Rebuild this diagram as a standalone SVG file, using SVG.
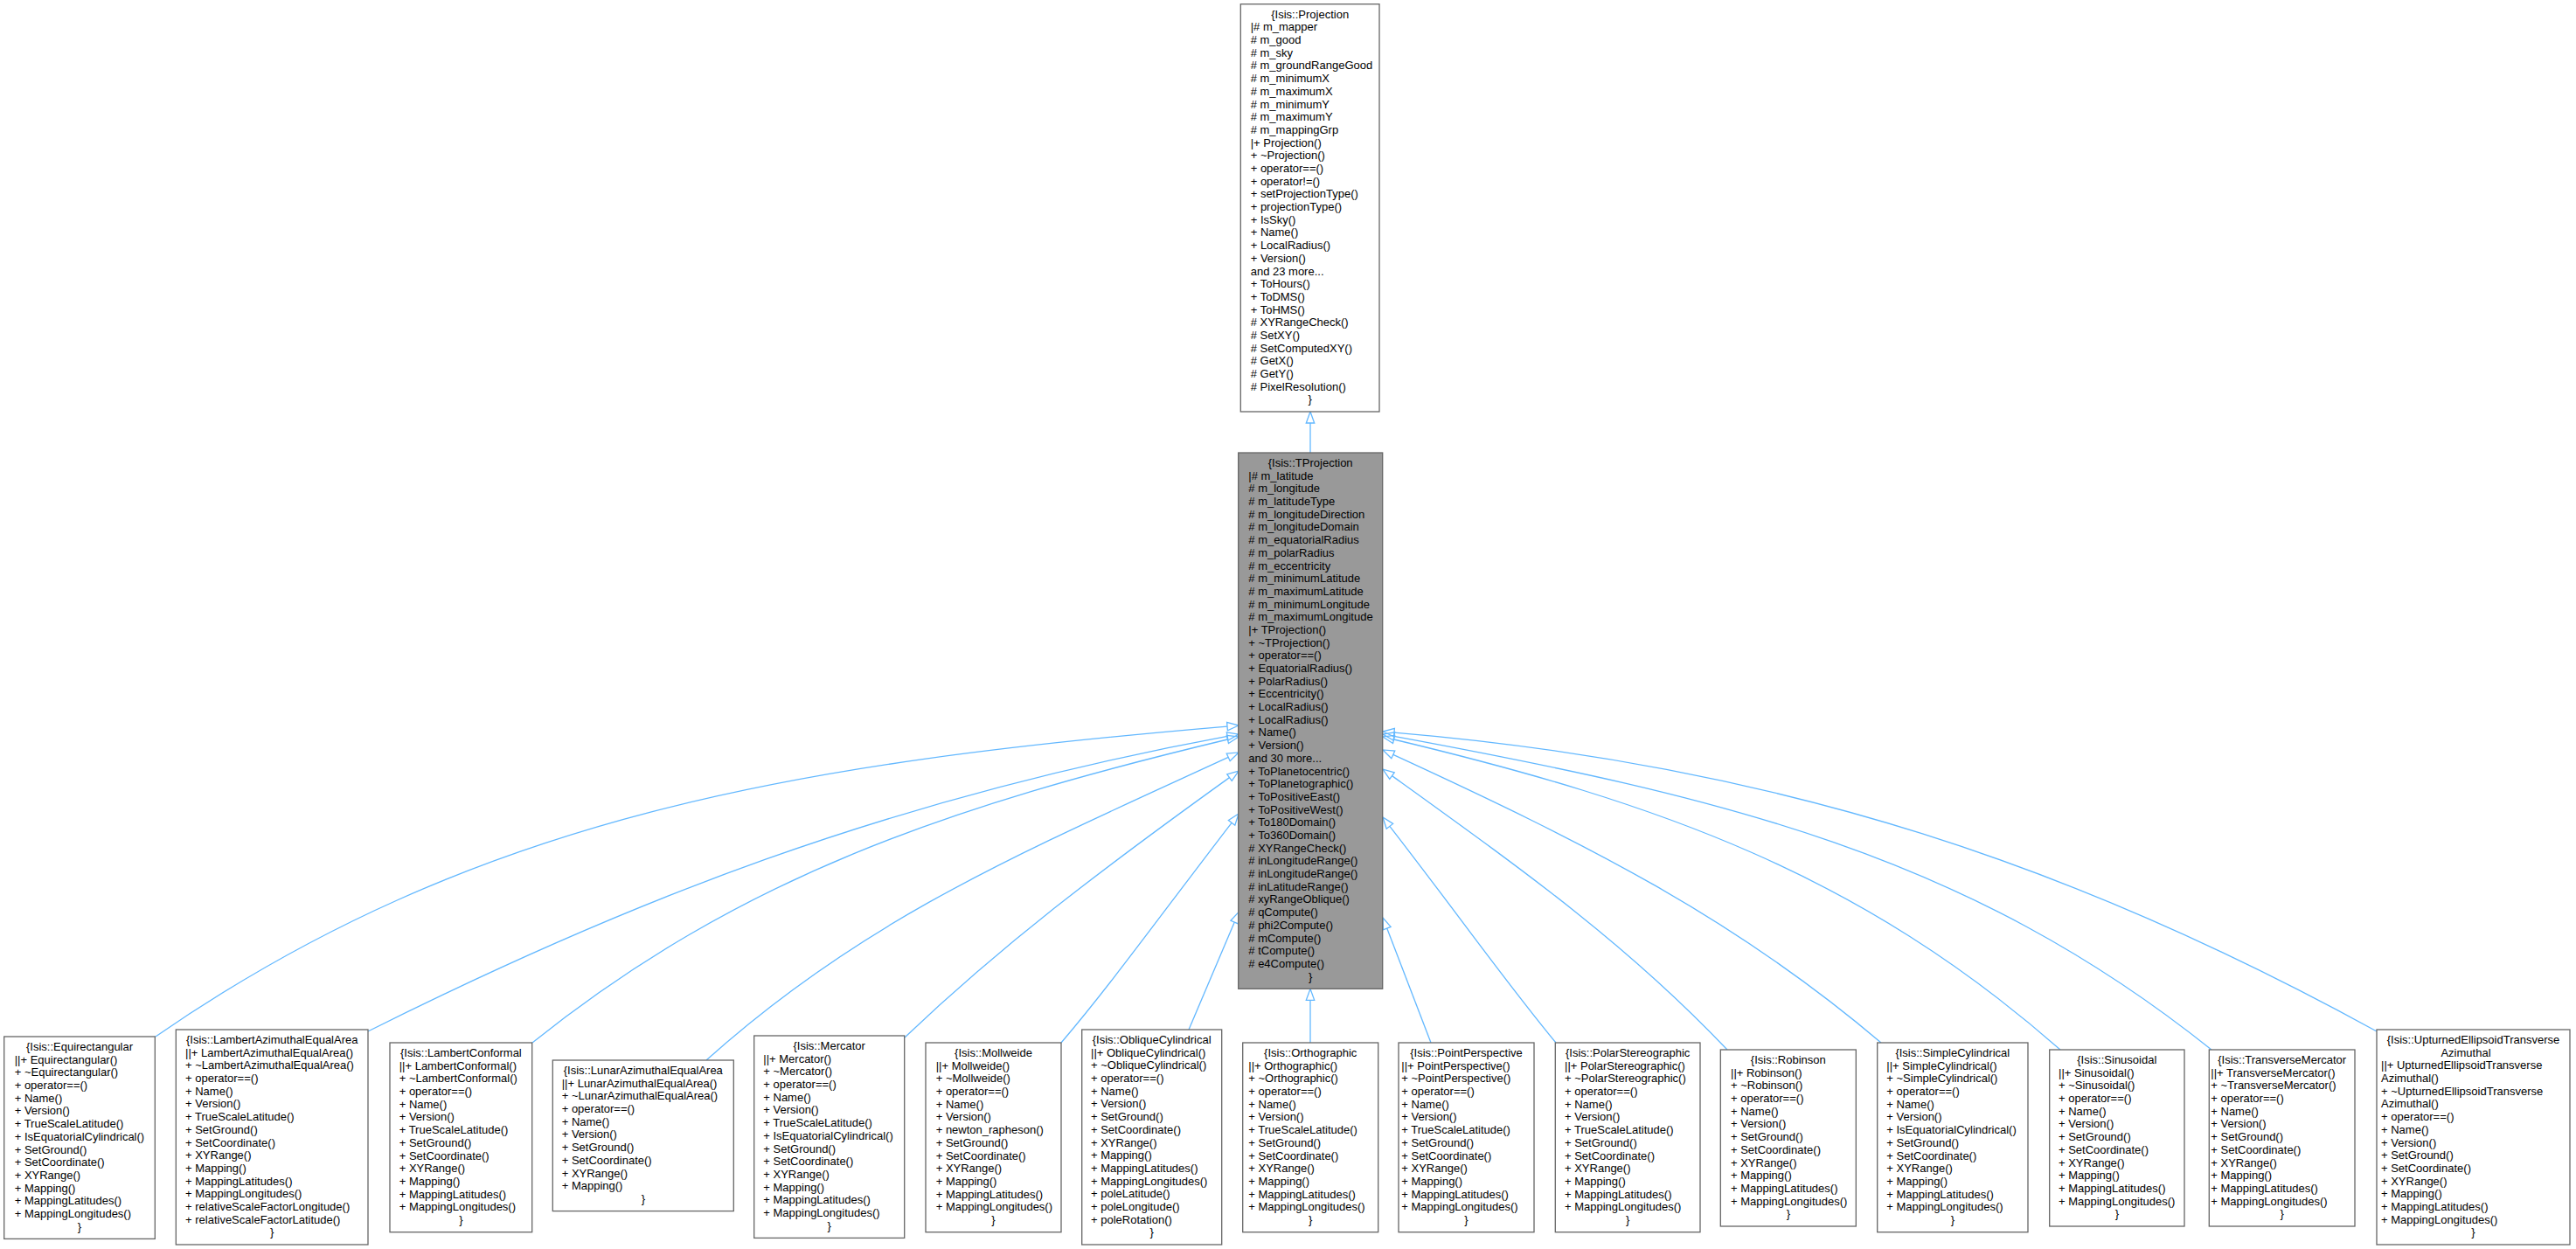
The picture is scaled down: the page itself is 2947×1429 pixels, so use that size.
<svg xmlns="http://www.w3.org/2000/svg" width="2947" height="1429" viewBox="0 0 2947 1429">
<defs>
<style>
.box{fill:#fff;stroke:#666;stroke-width:1.3}
.dark{fill:#999}
text{font-family:"Liberation Sans",Arial,Helvetica,sans-serif;font-size:13px;fill:#000}
.c{text-anchor:middle}
.edge{fill:none;stroke:#63B8FF;stroke-width:1.3;marker-end:url(#tri)}
</style>
<marker id="tri" viewBox="0 0 13 10" refX="0" refY="5" markerWidth="13" markerHeight="10" markerUnits="userSpaceOnUse" orient="auto" overflow="visible">
<path d="M0,0.3 L13,5 L0,9.7 Z" fill="none" stroke="#63B8FF" stroke-width="1.3"/>
</marker>
</defs>
<rect width="2947" height="1429" fill="#fff"/>

<g id="connectors">
<path class="edge" d="M1499,518 L1499,484"/>
<path class="edge" d="M178,1186 C546,932 914,872.7 1404,831.1"/>
<path class="edge" d="M421,1180 C716,1032.5 1011,915.1 1404.2,842.4"/>
<path class="edge" d="M609,1193 C847.5,1002.2 1086.4,922.3 1404.4,846"/>
<path class="edge" d="M808,1213 C987,1052 1166.2,976.4 1405.2,866.4"/>
<path class="edge" d="M1035,1187 C1146,1081.5 1257.5,996.6 1406.5,889.6"/>
<path class="edge" d="M1214,1193 C1272,1125 1331,1042.7 1409.1,941.3"/>
<path class="edge" d="M1360,1178 L1412.3,1055.1"/>
<path class="edge" d="M1499,1193 L1499,1144.3"/>
<path class="edge" d="M1637,1193 L1586.7,1062.1"/>
<path class="edge" d="M1780,1193 C1722,1123 1668,1046 1589.9,945.3"/>
<path class="edge" d="M1976,1201 C1861,1080 1745.5,997.8 1592.5,887.6"/>
<path class="edge" d="M2152,1193 C1985,1051 1816.8,966 1593.8,863.4"/>
<path class="edge" d="M2357,1201 C2128,1000 1899.6,919 1594.6,846"/>
<path class="edge" d="M2530,1201 C2250,977 1968.8,911.6 1594.8,842.4"/>
<path class="edge" d="M2719,1180 C2382,995 2045,876 1595,838.1"/>
</g>

<g id="projection">
<rect class="box" x="1419.3" y="4.7" width="158.7" height="466.3"/>
<text class="c" x="1498.7" y="20.7">{Isis::Projection</text>
<text y="20.7"><tspan x="1430.7" dy="14.69">|# m_mapper</tspan><tspan x="1430.7" dy="14.69"># m_good</tspan><tspan x="1430.7" dy="14.69"># m_sky</tspan><tspan x="1430.7" dy="14.69"># m_groundRangeGood</tspan><tspan x="1430.7" dy="14.69"># m_minimumX</tspan><tspan x="1430.7" dy="14.69"># m_maximumX</tspan><tspan x="1430.7" dy="14.69"># m_minimumY</tspan><tspan x="1430.7" dy="14.69"># m_maximumY</tspan><tspan x="1430.7" dy="14.69"># m_mappingGrp</tspan><tspan x="1430.7" dy="14.69">|+ Projection()</tspan><tspan x="1430.7" dy="14.69">+ ~Projection()</tspan><tspan x="1430.7" dy="14.69">+ operator==()</tspan><tspan x="1430.7" dy="14.69">+ operator!=()</tspan><tspan x="1430.7" dy="14.69">+ setProjectionType()</tspan><tspan x="1430.7" dy="14.69">+ projectionType()</tspan><tspan x="1430.7" dy="14.69">+ IsSky()</tspan><tspan x="1430.7" dy="14.69">+ Name()</tspan><tspan x="1430.7" dy="14.69">+ LocalRadius()</tspan><tspan x="1430.7" dy="14.69">+ Version()</tspan><tspan x="1430.7" dy="14.69">and 23 more...</tspan><tspan x="1430.7" dy="14.69">+ ToHours()</tspan><tspan x="1430.7" dy="14.69">+ ToDMS()</tspan><tspan x="1430.7" dy="14.69">+ ToHMS()</tspan><tspan x="1430.7" dy="14.69"># XYRangeCheck()</tspan><tspan x="1430.7" dy="14.69"># SetXY()</tspan><tspan x="1430.7" dy="14.69"># SetComputedXY()</tspan><tspan x="1430.7" dy="14.69"># GetX()</tspan><tspan x="1430.7" dy="14.69"># GetY()</tspan><tspan x="1430.7" dy="14.69"># PixelResolution()</tspan></text>
<text class="c" x="1498.7" y="461.4">}</text>
</g>

<g id="tprojection">
<rect class="box dark" x="1416.7" y="518" width="165" height="613.3"/>
<text class="c" x="1499.2" y="534">{Isis::TProjection</text>
<text y="534"><tspan x="1428.3" dy="14.69">|# m_latitude</tspan><tspan x="1428.3" dy="14.69"># m_longitude</tspan><tspan x="1428.3" dy="14.69"># m_latitudeType</tspan><tspan x="1428.3" dy="14.69"># m_longitudeDirection</tspan><tspan x="1428.3" dy="14.69"># m_longitudeDomain</tspan><tspan x="1428.3" dy="14.69"># m_equatorialRadius</tspan><tspan x="1428.3" dy="14.69"># m_polarRadius</tspan><tspan x="1428.3" dy="14.69"># m_eccentricity</tspan><tspan x="1428.3" dy="14.69"># m_minimumLatitude</tspan><tspan x="1428.3" dy="14.69"># m_maximumLatitude</tspan><tspan x="1428.3" dy="14.69"># m_minimumLongitude</tspan><tspan x="1428.3" dy="14.69"># m_maximumLongitude</tspan><tspan x="1428.3" dy="14.69">|+ TProjection()</tspan><tspan x="1428.3" dy="14.69">+ ~TProjection()</tspan><tspan x="1428.3" dy="14.69">+ operator==()</tspan><tspan x="1428.3" dy="14.69">+ EquatorialRadius()</tspan><tspan x="1428.3" dy="14.69">+ PolarRadius()</tspan><tspan x="1428.3" dy="14.69">+ Eccentricity()</tspan><tspan x="1428.3" dy="14.69">+ LocalRadius()</tspan><tspan x="1428.3" dy="14.69">+ LocalRadius()</tspan><tspan x="1428.3" dy="14.69">+ Name()</tspan><tspan x="1428.3" dy="14.69">+ Version()</tspan><tspan x="1428.3" dy="14.69">and 30 more...</tspan><tspan x="1428.3" dy="14.69">+ ToPlanetocentric()</tspan><tspan x="1428.3" dy="14.69">+ ToPlanetographic()</tspan><tspan x="1428.3" dy="14.69">+ ToPositiveEast()</tspan><tspan x="1428.3" dy="14.69">+ ToPositiveWest()</tspan><tspan x="1428.3" dy="14.69">+ To180Domain()</tspan><tspan x="1428.3" dy="14.69">+ To360Domain()</tspan><tspan x="1428.3" dy="14.69"># XYRangeCheck()</tspan><tspan x="1428.3" dy="14.69"># inLongitudeRange()</tspan><tspan x="1428.3" dy="14.69"># inLongitudeRange()</tspan><tspan x="1428.3" dy="14.69"># inLatitudeRange()</tspan><tspan x="1428.3" dy="14.69"># xyRangeOblique()</tspan><tspan x="1428.3" dy="14.69"># qCompute()</tspan><tspan x="1428.3" dy="14.69"># phi2Compute()</tspan><tspan x="1428.3" dy="14.69"># mCompute()</tspan><tspan x="1428.3" dy="14.69"># tCompute()</tspan><tspan x="1428.3" dy="14.69"># e4Compute()</tspan></text>
<text class="c" x="1499.2" y="1121.6">}</text>
</g>

<g id="equirectangular">
<rect class="box" x="4.7" y="1186" width="172.6" height="231.4"/>
<text class="c" x="91" y="1202">{Isis::Equirectangular</text>
<text y="1202"><tspan x="16.7" dy="14.69">||+ Equirectangular()</tspan><tspan x="16.7" dy="14.69">+ ~Equirectangular()</tspan><tspan x="16.7" dy="14.69">+ operator==()</tspan><tspan x="16.7" dy="14.69">+ Name()</tspan><tspan x="16.7" dy="14.69">+ Version()</tspan><tspan x="16.7" dy="14.69">+ TrueScaleLatitude()</tspan><tspan x="16.7" dy="14.69">+ IsEquatorialCylindrical()</tspan><tspan x="16.7" dy="14.69">+ SetGround()</tspan><tspan x="16.7" dy="14.69">+ SetCoordinate()</tspan><tspan x="16.7" dy="14.69">+ XYRange()</tspan><tspan x="16.7" dy="14.69">+ Mapping()</tspan><tspan x="16.7" dy="14.69">+ MappingLatitudes()</tspan><tspan x="16.7" dy="14.69">+ MappingLongitudes()</tspan></text>
<text class="c" x="91" y="1407.7">}</text>
</g>

<g id="lambertazimuthalequalarea">
<rect class="box" x="201.3" y="1178" width="219.7" height="246"/>
<text class="c" x="311.2" y="1194">{Isis::LambertAzimuthalEqualArea</text>
<text y="1194"><tspan x="212" dy="14.69">||+ LambertAzimuthalEqualArea()</tspan><tspan x="212" dy="14.69">+ ~LambertAzimuthalEqualArea()</tspan><tspan x="212" dy="14.69">+ operator==()</tspan><tspan x="212" dy="14.69">+ Name()</tspan><tspan x="212" dy="14.69">+ Version()</tspan><tspan x="212" dy="14.69">+ TrueScaleLatitude()</tspan><tspan x="212" dy="14.69">+ SetGround()</tspan><tspan x="212" dy="14.69">+ SetCoordinate()</tspan><tspan x="212" dy="14.69">+ XYRange()</tspan><tspan x="212" dy="14.69">+ Mapping()</tspan><tspan x="212" dy="14.69">+ MappingLatitudes()</tspan><tspan x="212" dy="14.69">+ MappingLongitudes()</tspan><tspan x="212" dy="14.69">+ relativeScaleFactorLongitude()</tspan><tspan x="212" dy="14.69">+ relativeScaleFactorLatitude()</tspan></text>
<text class="c" x="311.2" y="1414.4">}</text>
</g>

<g id="lambertconformal">
<rect class="box" x="446" y="1193" width="162.7" height="216.7"/>
<text class="c" x="527.4" y="1209">{Isis::LambertConformal</text>
<text y="1209"><tspan x="456.7" dy="14.69">||+ LambertConformal()</tspan><tspan x="456.7" dy="14.69">+ ~LambertConformal()</tspan><tspan x="456.7" dy="14.69">+ operator==()</tspan><tspan x="456.7" dy="14.69">+ Name()</tspan><tspan x="456.7" dy="14.69">+ Version()</tspan><tspan x="456.7" dy="14.69">+ TrueScaleLatitude()</tspan><tspan x="456.7" dy="14.69">+ SetGround()</tspan><tspan x="456.7" dy="14.69">+ SetCoordinate()</tspan><tspan x="456.7" dy="14.69">+ XYRange()</tspan><tspan x="456.7" dy="14.69">+ Mapping()</tspan><tspan x="456.7" dy="14.69">+ MappingLatitudes()</tspan><tspan x="456.7" dy="14.69">+ MappingLongitudes()</tspan></text>
<text class="c" x="527.4" y="1400">}</text>
</g>

<g id="lunarazimuthalequalarea">
<rect class="box" x="632.3" y="1213" width="207" height="172.6"/>
<text class="c" x="735.8" y="1229">{Isis::LunarAzimuthalEqualArea</text>
<text y="1229"><tspan x="642.7" dy="14.69">||+ LunarAzimuthalEqualArea()</tspan><tspan x="642.7" dy="14.69">+ ~LunarAzimuthalEqualArea()</tspan><tspan x="642.7" dy="14.69">+ operator==()</tspan><tspan x="642.7" dy="14.69">+ Name()</tspan><tspan x="642.7" dy="14.69">+ Version()</tspan><tspan x="642.7" dy="14.69">+ SetGround()</tspan><tspan x="642.7" dy="14.69">+ SetCoordinate()</tspan><tspan x="642.7" dy="14.69">+ XYRange()</tspan><tspan x="642.7" dy="14.69">+ Mapping()</tspan></text>
<text class="c" x="735.8" y="1375.9">}</text>
</g>

<g id="mercator">
<rect class="box" x="862.7" y="1185" width="172" height="231.4"/>
<text class="c" x="948.7" y="1201">{Isis::Mercator</text>
<text y="1201"><tspan x="873.3" dy="14.69">||+ Mercator()</tspan><tspan x="873.3" dy="14.69">+ ~Mercator()</tspan><tspan x="873.3" dy="14.69">+ operator==()</tspan><tspan x="873.3" dy="14.69">+ Name()</tspan><tspan x="873.3" dy="14.69">+ Version()</tspan><tspan x="873.3" dy="14.69">+ TrueScaleLatitude()</tspan><tspan x="873.3" dy="14.69">+ IsEquatorialCylindrical()</tspan><tspan x="873.3" dy="14.69">+ SetGround()</tspan><tspan x="873.3" dy="14.69">+ SetCoordinate()</tspan><tspan x="873.3" dy="14.69">+ XYRange()</tspan><tspan x="873.3" dy="14.69">+ Mapping()</tspan><tspan x="873.3" dy="14.69">+ MappingLatitudes()</tspan><tspan x="873.3" dy="14.69">+ MappingLongitudes()</tspan></text>
<text class="c" x="948.7" y="1406.7">}</text>
</g>

<g id="mollweide">
<rect class="box" x="1059" y="1193" width="155" height="216.7"/>
<text class="c" x="1136.5" y="1209">{Isis::Mollweide</text>
<text y="1209"><tspan x="1070.7" dy="14.69">||+ Mollweide()</tspan><tspan x="1070.7" dy="14.69">+ ~Mollweide()</tspan><tspan x="1070.7" dy="14.69">+ operator==()</tspan><tspan x="1070.7" dy="14.69">+ Name()</tspan><tspan x="1070.7" dy="14.69">+ Version()</tspan><tspan x="1070.7" dy="14.69">+ newton_rapheson()</tspan><tspan x="1070.7" dy="14.69">+ SetGround()</tspan><tspan x="1070.7" dy="14.69">+ SetCoordinate()</tspan><tspan x="1070.7" dy="14.69">+ XYRange()</tspan><tspan x="1070.7" dy="14.69">+ Mapping()</tspan><tspan x="1070.7" dy="14.69">+ MappingLatitudes()</tspan><tspan x="1070.7" dy="14.69">+ MappingLongitudes()</tspan></text>
<text class="c" x="1136.5" y="1400">}</text>
</g>

<g id="obliquecylindrical">
<rect class="box" x="1237.7" y="1178" width="160" height="246"/>
<text class="c" x="1317.7" y="1194">{Isis::ObliqueCylindrical</text>
<text y="1194"><tspan x="1248" dy="14.69">||+ ObliqueCylindrical()</tspan><tspan x="1248" dy="14.69">+ ~ObliqueCylindrical()</tspan><tspan x="1248" dy="14.69">+ operator==()</tspan><tspan x="1248" dy="14.69">+ Name()</tspan><tspan x="1248" dy="14.69">+ Version()</tspan><tspan x="1248" dy="14.69">+ SetGround()</tspan><tspan x="1248" dy="14.69">+ SetCoordinate()</tspan><tspan x="1248" dy="14.69">+ XYRange()</tspan><tspan x="1248" dy="14.69">+ Mapping()</tspan><tspan x="1248" dy="14.69">+ MappingLatitudes()</tspan><tspan x="1248" dy="14.69">+ MappingLongitudes()</tspan><tspan x="1248" dy="14.69">+ poleLatitude()</tspan><tspan x="1248" dy="14.69">+ poleLongitude()</tspan><tspan x="1248" dy="14.69">+ poleRotation()</tspan></text>
<text class="c" x="1317.7" y="1414.4">}</text>
</g>

<g id="orthographic">
<rect class="box" x="1421.7" y="1193" width="155" height="216.7"/>
<text class="c" x="1499.2" y="1209">{Isis::Orthographic</text>
<text y="1209"><tspan x="1428.3" dy="14.69">||+ Orthographic()</tspan><tspan x="1428.3" dy="14.69">+ ~Orthographic()</tspan><tspan x="1428.3" dy="14.69">+ operator==()</tspan><tspan x="1428.3" dy="14.69">+ Name()</tspan><tspan x="1428.3" dy="14.69">+ Version()</tspan><tspan x="1428.3" dy="14.69">+ TrueScaleLatitude()</tspan><tspan x="1428.3" dy="14.69">+ SetGround()</tspan><tspan x="1428.3" dy="14.69">+ SetCoordinate()</tspan><tspan x="1428.3" dy="14.69">+ XYRange()</tspan><tspan x="1428.3" dy="14.69">+ Mapping()</tspan><tspan x="1428.3" dy="14.69">+ MappingLatitudes()</tspan><tspan x="1428.3" dy="14.69">+ MappingLongitudes()</tspan></text>
<text class="c" x="1499.2" y="1400">}</text>
</g>

<g id="pointperspective">
<rect class="box" x="1600" y="1193" width="155" height="216.7"/>
<text class="c" x="1677.5" y="1209">{Isis::PointPerspective</text>
<text y="1209"><tspan x="1603.3" dy="14.69">||+ PointPerspective()</tspan><tspan x="1603.3" dy="14.69">+ ~PointPerspective()</tspan><tspan x="1603.3" dy="14.69">+ operator==()</tspan><tspan x="1603.3" dy="14.69">+ Name()</tspan><tspan x="1603.3" dy="14.69">+ Version()</tspan><tspan x="1603.3" dy="14.69">+ TrueScaleLatitude()</tspan><tspan x="1603.3" dy="14.69">+ SetGround()</tspan><tspan x="1603.3" dy="14.69">+ SetCoordinate()</tspan><tspan x="1603.3" dy="14.69">+ XYRange()</tspan><tspan x="1603.3" dy="14.69">+ Mapping()</tspan><tspan x="1603.3" dy="14.69">+ MappingLatitudes()</tspan><tspan x="1603.3" dy="14.69">+ MappingLongitudes()</tspan></text>
<text class="c" x="1677.5" y="1400">}</text>
</g>

<g id="polarstereographic">
<rect class="box" x="1779.3" y="1193" width="165.7" height="216.7"/>
<text class="c" x="1862.2" y="1209">{Isis::PolarStereographic</text>
<text y="1209"><tspan x="1790" dy="14.69">||+ PolarStereographic()</tspan><tspan x="1790" dy="14.69">+ ~PolarStereographic()</tspan><tspan x="1790" dy="14.69">+ operator==()</tspan><tspan x="1790" dy="14.69">+ Name()</tspan><tspan x="1790" dy="14.69">+ Version()</tspan><tspan x="1790" dy="14.69">+ TrueScaleLatitude()</tspan><tspan x="1790" dy="14.69">+ SetGround()</tspan><tspan x="1790" dy="14.69">+ SetCoordinate()</tspan><tspan x="1790" dy="14.69">+ XYRange()</tspan><tspan x="1790" dy="14.69">+ Mapping()</tspan><tspan x="1790" dy="14.69">+ MappingLatitudes()</tspan><tspan x="1790" dy="14.69">+ MappingLongitudes()</tspan></text>
<text class="c" x="1862.2" y="1400">}</text>
</g>

<g id="robinson">
<rect class="box" x="1968.3" y="1201" width="155" height="202"/>
<text class="c" x="2045.8" y="1217">{Isis::Robinson</text>
<text y="1217"><tspan x="1980" dy="14.69">||+ Robinson()</tspan><tspan x="1980" dy="14.69">+ ~Robinson()</tspan><tspan x="1980" dy="14.69">+ operator==()</tspan><tspan x="1980" dy="14.69">+ Name()</tspan><tspan x="1980" dy="14.69">+ Version()</tspan><tspan x="1980" dy="14.69">+ SetGround()</tspan><tspan x="1980" dy="14.69">+ SetCoordinate()</tspan><tspan x="1980" dy="14.69">+ XYRange()</tspan><tspan x="1980" dy="14.69">+ Mapping()</tspan><tspan x="1980" dy="14.69">+ MappingLatitudes()</tspan><tspan x="1980" dy="14.69">+ MappingLongitudes()</tspan></text>
<text class="c" x="2045.8" y="1393.3">}</text>
</g>

<g id="simplecylindrical">
<rect class="box" x="2147.7" y="1193" width="172.3" height="216.7"/>
<text class="c" x="2233.8" y="1209">{Isis::SimpleCylindrical</text>
<text y="1209"><tspan x="2158.3" dy="14.69">||+ SimpleCylindrical()</tspan><tspan x="2158.3" dy="14.69">+ ~SimpleCylindrical()</tspan><tspan x="2158.3" dy="14.69">+ operator==()</tspan><tspan x="2158.3" dy="14.69">+ Name()</tspan><tspan x="2158.3" dy="14.69">+ Version()</tspan><tspan x="2158.3" dy="14.69">+ IsEquatorialCylindrical()</tspan><tspan x="2158.3" dy="14.69">+ SetGround()</tspan><tspan x="2158.3" dy="14.69">+ SetCoordinate()</tspan><tspan x="2158.3" dy="14.69">+ XYRange()</tspan><tspan x="2158.3" dy="14.69">+ Mapping()</tspan><tspan x="2158.3" dy="14.69">+ MappingLatitudes()</tspan><tspan x="2158.3" dy="14.69">+ MappingLongitudes()</tspan></text>
<text class="c" x="2233.8" y="1400">}</text>
</g>

<g id="sinusoidal">
<rect class="box" x="2344.7" y="1201" width="154.3" height="202"/>
<text class="c" x="2421.8" y="1217">{Isis::Sinusoidal</text>
<text y="1217"><tspan x="2355" dy="14.69">||+ Sinusoidal()</tspan><tspan x="2355" dy="14.69">+ ~Sinusoidal()</tspan><tspan x="2355" dy="14.69">+ operator==()</tspan><tspan x="2355" dy="14.69">+ Name()</tspan><tspan x="2355" dy="14.69">+ Version()</tspan><tspan x="2355" dy="14.69">+ SetGround()</tspan><tspan x="2355" dy="14.69">+ SetCoordinate()</tspan><tspan x="2355" dy="14.69">+ XYRange()</tspan><tspan x="2355" dy="14.69">+ Mapping()</tspan><tspan x="2355" dy="14.69">+ MappingLatitudes()</tspan><tspan x="2355" dy="14.69">+ MappingLongitudes()</tspan></text>
<text class="c" x="2421.8" y="1393.3">}</text>
</g>

<g id="transversemercator">
<rect class="box" x="2527.3" y="1201" width="166.7" height="202"/>
<text class="c" x="2610.7" y="1217">{Isis::TransverseMercator</text>
<text y="1217"><tspan x="2529.3" dy="14.69">||+ TransverseMercator()</tspan><tspan x="2529.3" dy="14.69">+ ~TransverseMercator()</tspan><tspan x="2529.3" dy="14.69">+ operator==()</tspan><tspan x="2529.3" dy="14.69">+ Name()</tspan><tspan x="2529.3" dy="14.69">+ Version()</tspan><tspan x="2529.3" dy="14.69">+ SetGround()</tspan><tspan x="2529.3" dy="14.69">+ SetCoordinate()</tspan><tspan x="2529.3" dy="14.69">+ XYRange()</tspan><tspan x="2529.3" dy="14.69">+ Mapping()</tspan><tspan x="2529.3" dy="14.69">+ MappingLatitudes()</tspan><tspan x="2529.3" dy="14.69">+ MappingLongitudes()</tspan></text>
<text class="c" x="2610.7" y="1393.3">}</text>
</g>

<g id="upturnedellipsoidtransverseazimuthal">
<rect class="box" x="2719" y="1178" width="221" height="246"/>
<text class="c" x="2829.5" y="1194">{Isis::UpturnedEllipsoidTransverse</text>
<text class="c" x="2821" y="1208.7">Azimuthal</text>
<text y="1208.7"><tspan x="2724" dy="14.69">||+ UpturnedEllipsoidTransverse</tspan><tspan x="2724" dy="14.69">Azimuthal()</tspan><tspan x="2724" dy="14.69">+ ~UpturnedEllipsoidTransverse</tspan><tspan x="2724" dy="14.69">Azimuthal()</tspan><tspan x="2724" dy="14.69">+ operator==()</tspan><tspan x="2724" dy="14.69">+ Name()</tspan><tspan x="2724" dy="14.69">+ Version()</tspan><tspan x="2724" dy="14.69">+ SetGround()</tspan><tspan x="2724" dy="14.69">+ SetCoordinate()</tspan><tspan x="2724" dy="14.69">+ XYRange()</tspan><tspan x="2724" dy="14.69">+ Mapping()</tspan><tspan x="2724" dy="14.69">+ MappingLatitudes()</tspan><tspan x="2724" dy="14.69">+ MappingLongitudes()</tspan></text>
<text class="c" x="2829.5" y="1414.4">}</text>
</g>
</svg>
